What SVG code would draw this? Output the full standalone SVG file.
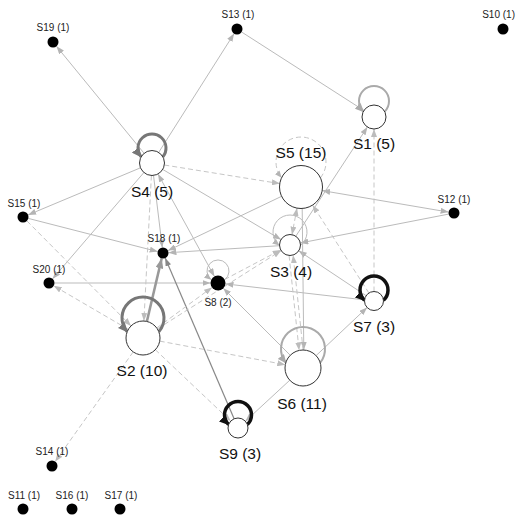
<svg xmlns="http://www.w3.org/2000/svg" width="517" height="518" viewBox="0 0 517 518">
<style>
.e{fill:none;stroke:#bbb;stroke-width:1;marker-end:url(#aL)}
.d{fill:none;stroke:#c6c6c6;stroke-width:1;stroke-dasharray:5 3;marker-end:url(#aD)}
.both{marker-start:url(#aL)}
.bothd{marker-start:url(#aD)}
.loop{fill:none}
.big{fill:#fff;stroke:#333;stroke-width:1}
.dot{fill:#000}
.lb{font-family:"Liberation Sans",Arial,sans-serif;font-size:15.5px;fill:#111;text-anchor:middle}
.ls{font-family:"Liberation Sans",Arial,sans-serif;font-size:10px;fill:#222;text-anchor:middle}
</style>
<defs>
<marker id="aL" markerUnits="userSpaceOnUse" markerWidth="8" markerHeight="6" refX="8" refY="3" orient="auto-start-reverse"><path d="M0,0 L8,3 L0,6 z" fill="#b4b4b4"/></marker>
<marker id="aD" markerUnits="userSpaceOnUse" markerWidth="8" markerHeight="6" refX="8" refY="3" orient="auto-start-reverse"><path d="M0,0 L8,3 L0,6 z" fill="#bcbcbc"/></marker>
<marker id="aG" markerUnits="userSpaceOnUse" markerWidth="8" markerHeight="6" refX="8" refY="3" orient="auto"><path d="M0,0 L8,3 L0,6 z" fill="#888"/></marker>
<marker id="aG2" markerUnits="userSpaceOnUse" markerWidth="10" markerHeight="8" refX="10" refY="4" orient="auto"><path d="M0,0 L10,4 L0,8 z" fill="#999"/></marker>
<marker id="aDark" markerUnits="userSpaceOnUse" markerWidth="10" markerHeight="9" refX="9" refY="4.5" orient="auto"><path d="M0,0 L10,4.5 L0,9 z" fill="#777"/></marker>
<marker id="aBlack" markerUnits="userSpaceOnUse" markerWidth="10" markerHeight="9" refX="9" refY="4.5" orient="auto"><path d="M0,0 L10,4.5 L0,9 z" fill="#111"/></marker>
<marker id="aLight" markerUnits="userSpaceOnUse" markerWidth="9" markerHeight="8" refX="8" refY="4" orient="auto"><path d="M0,0 L9,4 L0,8 z" fill="#aaa"/></marker>
<marker id="aThin" markerUnits="userSpaceOnUse" markerWidth="7" markerHeight="6" refX="7" refY="3" orient="auto"><path d="M0,0 L7,3 L0,6 z" fill="#b4b4b4"/></marker>
</defs>
<g id="connectors">
<line class="e" x1="144.1" y1="153.3" x2="56.5" y2="46.3"/>
<line class="e" x1="158.7" y1="152.4" x2="234.1" y2="33.6"/>
<line class="e" x1="241.6" y1="32.0" x2="363.9" y2="110.5"/>
<line class="e" x1="140.5" y1="167.8" x2="28.1" y2="214.9"/>
<line class="e" x1="143.9" y1="172.5" x2="52.6" y2="278.8"/>
<line class="e" x1="153.5" y1="175.4" x2="162.3" y2="247.5"/>
<line class="e both" x1="158.0" y1="174.0" x2="214.4" y2="276.4"/>
<line class="e" x1="162.7" y1="169.4" x2="281.0" y2="239.6"/>
<line class="e" x1="28.3" y1="218.4" x2="157.7" y2="251.6"/>
<line class="e" x1="54.5" y1="283" x2="210.5" y2="283"/>
<line class="e" x1="281.6" y1="196.3" x2="168.0" y2="250.6"/>
<line class="e" x1="279.5" y1="245.7" x2="168.5" y2="252.7"/>
<line class="e both" x1="322.2" y1="190.6" x2="448.6" y2="212.1"/>
<line class="e" x1="448.6" y1="214.1" x2="300.3" y2="243.0"/>
<line class="e" x1="295.8" y1="236.2" x2="367.4" y2="127.0"/>
<line class="e" x1="290.3" y1="355.3" x2="223.3" y2="288.3"/>
<line class="e" x1="364.6" y1="299.9" x2="225.5" y2="283.9"/>
<line class="e" x1="366.1" y1="295.7" x2="298.7" y2="250.8"/>
<line class="e" x1="316.1" y1="355.6" x2="367.1" y2="307.5"/>
<line class="e" x1="302.2" y1="208.5" x2="303.8" y2="350"/>
<line class="e" x1="289.8" y1="380.2" x2="245.4" y2="421.2"/>
<line x1="234.1" y1="418.8" x2="165.2" y2="258.1" stroke="#888" stroke-width="1.2" marker-end="url(#aG)"/>
<line x1="146.9" y1="321.4" x2="161.7" y2="258.4" stroke="#999" stroke-width="2.5" marker-end="url(#aG2)"/>
<line class="d" x1="164.3" y1="165.0" x2="279.8" y2="183.6"/>
<line class="d" x1="151.4" y1="175.5" x2="143.9" y2="321.0"/>
<line class="d" x1="26.9" y1="220.9" x2="131.0" y2="325.9"/>
<line class="d" x1="128.3" y1="329.4" x2="53.7" y2="285.8"/>
<line class="d" x1="156.7" y1="328.0" x2="212.0" y2="287.4"/>
<line class="d" x1="157.4" y1="328.9" x2="281.1" y2="250.6"/>
<line class="d" x1="224.6" y1="279.5" x2="280.7" y2="249.9"/>
<line class="d" x1="159.7" y1="341.1" x2="285.3" y2="364.7"/>
<line class="d" x1="155.3" y1="349.7" x2="230.7" y2="421.1"/>
<line class="d" x1="133.2" y1="351.9" x2="55.2" y2="461.5"/>
<line class="d" x1="374" y1="291.5" x2="374" y2="129"/>
<line class="d" x1="368.9" y1="293.0" x2="312.6" y2="205.1"/>
<line class="d bothd" x1="297.0" y1="208.1" x2="292.0" y2="234.7"/>
<line class="d" x1="289.1" y1="255.6" x2="299.1" y2="350.3"/>
<line class="d" x1="303.1" y1="349.9" x2="293.1" y2="255.2"/>
<path class="loop" d="M162.9,156.8 A14,14 0 1 0 141.1,156.8" stroke="#777" stroke-width="3" marker-end="url(#aDark)"/>
<path class="loop" d="M384.7,111.5 A15,15 0 1 0 363.3,111.5" stroke="#aaa" stroke-width="2" marker-end="url(#aLight)"/>
<path class="loop" d="M320.4,177.8 A25,25 0 1 0 281.6,177.8" stroke="#c6c6c6" stroke-width="1" stroke-dasharray="5 3" marker-end="url(#aThin)"/>
<path class="loop" d="M300.5,245.4 A17,17 0 1 0 279.5,245.4" stroke="#bbb" stroke-width="1" marker-end="url(#aThin)"/>
<path class="loop" d="M224.7,279.7 A11,11 0 1 0 211.3,279.7" stroke="#bbb" stroke-width="1" marker-end="url(#aThin)"/>
<path class="loop" d="M383.5,300.3 A14,14 0 1 0 364.5,300.3" stroke="#111" stroke-width="3.5" marker-end="url(#aBlack)"/>
<path class="loop" d="M158.8,331.8 A21,21 0 1 0 127.2,331.8" stroke="#777" stroke-width="3" marker-end="url(#aDark)"/>
<path class="loop" d="M320.2,362.7 A22,22 0 1 0 285.8,362.7" stroke="#aaa" stroke-width="2" marker-end="url(#aLight)"/>
<path class="loop" d="M247.4,424.6 A13.5,13.5 0 1 0 228.6,424.6" stroke="#111" stroke-width="3.5" marker-end="url(#aBlack)"/>
</g>
<g id="S1"><circle class="big" cx="374" cy="117" r="12"/><text class="lb" x="374" y="149">S1 (5)</text></g>
<g id="S2"><circle class="big" cx="143" cy="338" r="17"/><text class="lb" x="142" y="376">S2 (10)</text></g>
<g id="S3"><circle class="big" cx="290" cy="245" r="10.5"/><text class="lb" x="291" y="277">S3 (4)</text></g>
<g id="S4"><circle class="big" cx="152" cy="163" r="12.5"/><text class="lb" x="152" y="197">S4 (5)</text></g>
<g id="S5"><circle class="big" cx="301" cy="187" r="21.5"/><text class="lb" x="301" y="158">S5 (15)</text></g>
<g id="S6"><circle class="big" cx="303" cy="368" r="18"/><text class="lb" x="302" y="409">S6 (11)</text></g>
<g id="S7"><circle class="big" cx="374" cy="301" r="9.5"/><text class="lb" x="374" y="332">S7 (3)</text></g>
<g id="S8"><circle class="dot" cx="218" cy="283" r="7.5"/><text class="ls" x="218" y="306">S8 (2)</text></g>
<g id="S9"><circle class="big" cx="238" cy="428" r="10"/><text class="lb" x="240" y="459">S9 (3)</text></g>
<g id="S10"><circle class="dot" cx="503" cy="29" r="5.5"/><text class="ls" x="515" y="18" style="text-anchor:end">S10 (1)</text></g>
<g id="S11"><circle class="dot" cx="23" cy="509" r="5.5"/><text class="ls" x="24" y="499">S11 (1)</text></g>
<g id="S12"><circle class="dot" cx="454" cy="213" r="5.5"/><text class="ls" x="454" y="203">S12 (1)</text></g>
<g id="S13"><circle class="dot" cx="237" cy="29" r="5.5"/><text class="ls" x="238" y="18">S13 (1)</text></g>
<g id="S14"><circle class="dot" cx="52" cy="466" r="5.5"/><text class="ls" x="52" y="455">S14 (1)</text></g>
<g id="S15"><circle class="dot" cx="23" cy="217" r="5.5"/><text class="ls" x="24" y="207">S15 (1)</text></g>
<g id="S16"><circle class="dot" cx="72" cy="509" r="5.5"/><text class="ls" x="72" y="499">S16 (1)</text></g>
<g id="S17"><circle class="dot" cx="120" cy="509" r="5.5"/><text class="ls" x="121" y="499">S17 (1)</text></g>
<g id="S18"><circle class="dot" cx="163" cy="253" r="5.5"/><text class="ls" x="164" y="242">S18 (1)</text></g>
<g id="S19"><circle class="dot" cx="53" cy="42" r="5.5"/><text class="ls" x="53" y="31">S19 (1)</text></g>
<g id="S20"><circle class="dot" cx="49" cy="283" r="5.5"/><text class="ls" x="49" y="273">S20 (1)</text></g>
</svg>
